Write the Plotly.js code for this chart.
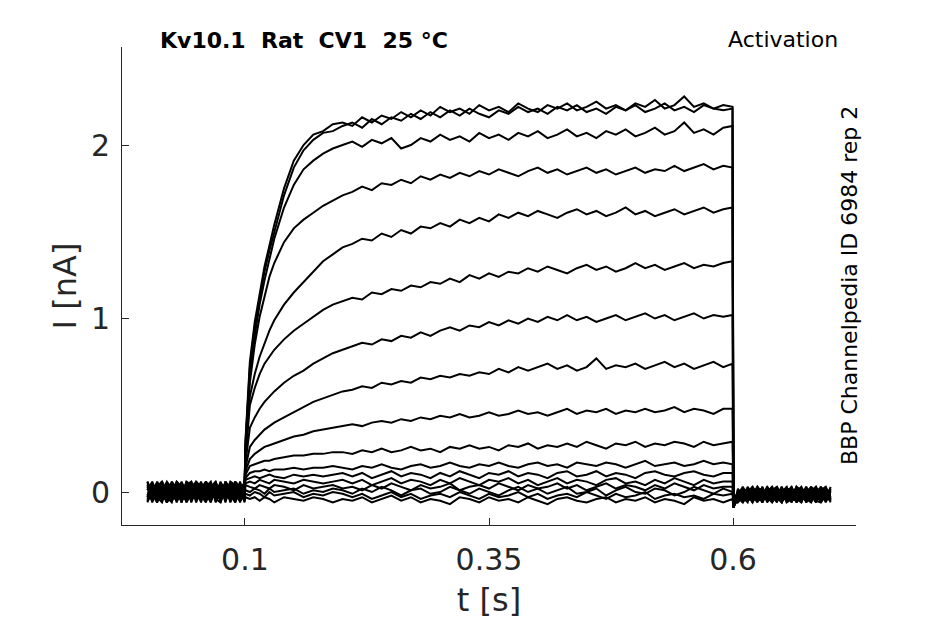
<!DOCTYPE html>
<html>
<head>
<meta charset="utf-8">
<script src="https://cdn.plot.ly/plotly-3.0.1.min.js"></script>
<style>
  html, body { margin: 0; padding: 0; background: #fff; }
  #graph { width: 945px; height: 624px; }
</style>
</head>
<body>
<div id="graph"></div>
<script>
// sample times [s]: holding, step, tail
var tPre = [0, 0.005, 0.01, 0.015, 0.02, 0.025, 0.03, 0.035, 0.04, 0.045, 0.05,
            0.055, 0.06, 0.065, 0.07, 0.075, 0.08, 0.085, 0.09, 0.095, 0.0995];
var tPulse = [0.1005, 0.105, 0.11, 0.115, 0.12, 0.125, 0.13, 0.14, 0.15, 0.16, 0.17, 0.18, 0.19, 0.2,
              0.21, 0.22, 0.23, 0.24, 0.25, 0.26, 0.27, 0.28, 0.29, 0.3, 0.31, 0.32, 0.33, 0.34, 0.35,
              0.36, 0.37, 0.38, 0.39, 0.4, 0.41, 0.42, 0.43, 0.44, 0.45, 0.46, 0.47, 0.48, 0.49, 0.5,
              0.51, 0.52, 0.53, 0.54, 0.55, 0.56, 0.57, 0.58, 0.59, 0.5995];
var tPost = [0.6005, 0.603, 0.605, 0.61, 0.615, 0.62, 0.625, 0.63, 0.635, 0.64, 0.645,
             0.65, 0.655, 0.66, 0.665, 0.67, 0.675, 0.68, 0.685, 0.69, 0.695, 0.7];

// current [nA] per sweep (pre | rise | plateau 0.21-0.59 + end | post)
var sweep01 = [0.03, -0.02, -0.05, 0.01, 0.06, 0.02, -0.03, 0.04, -0.06, -0.01, 0.05, 0.00, -0.04, 0.03, 0.06, -0.02, 0.01, -0.05, 0.04, 0.02, 0.00,
  0.30, 0.75, 0.98, 1.15, 1.30, 1.42, 1.54, 1.75, 1.91, 2.00, 2.06, 2.08, 2.12, 2.13,
  2.11, 2.16, 2.13, 2.17, 2.15, 2.19, 2.16, 2.20, 2.17, 2.22, 2.19, 2.21, 2.18, 2.23, 2.20, 2.22, 2.19, 2.24, 2.21, 2.19,
  2.23, 2.21, 2.24, 2.20, 2.22, 2.25, 2.21, 2.23, 2.20, 2.24, 2.22, 2.26, 2.21, 2.23, 2.28, 2.22, 2.24, 2.21, 2.23, 2.22,
  -0.09, -0.05, -0.02, 0.01, -0.04, 0.02, -0.01, -0.05, 0.00, 0.03, -0.03, -0.06, 0.01, -0.02, 0.02, -0.05, -0.01, 0.03, -0.04, 0.00, -0.06, 0.01];
var sweep02 = [-0.04, 0.02, 0.05, -0.01, -0.06, 0.03, 0.01, -0.03, 0.06, 0.04, -0.02, -0.05, 0.02, 0.00, -0.04, 0.05, 0.03, -0.01, -0.06, 0.01, 0.02,
  0.28, 0.72, 0.95, 1.12, 1.27, 1.39, 1.50, 1.71, 1.87, 1.97, 2.03, 2.07, 2.08, 2.11,
  2.13, 2.10, 2.15, 2.12, 2.16, 2.14, 2.18, 2.15, 2.19, 2.16, 2.20, 2.17, 2.21, 2.18, 2.16, 2.20, 2.18, 2.22, 2.19, 2.21,
  2.18, 2.22, 2.20, 2.23, 2.19, 2.21, 2.18, 2.22, 2.20, 2.23, 2.19, 2.21, 2.24, 2.20, 2.22, 2.19, 2.23, 2.21, 2.20, 2.21,
  -0.07, -0.04, -0.04, -0.02, 0.02, -0.05, 0.01, 0.02, -0.06, -0.01, 0.01, -0.03, 0.03, -0.05, -0.03, 0.01, -0.06, 0.00, 0.02, -0.04, 0.02, -0.03];
var sweep03 = [0.05, 0.01, -0.03, -0.06, 0.02, 0.04, -0.01, 0.06, 0.00, -0.04, -0.02, 0.03, 0.05, -0.05, 0.01, -0.03, 0.06, 0.02, -0.02, -0.05, -0.01,
  0.26, 0.68, 0.90, 1.08, 1.22, 1.35, 1.46, 1.64, 1.77, 1.86, 1.91, 1.95, 1.98, 2.00,
  2.02, 1.99, 2.03, 2.01, 2.04, 1.98, 2.00, 2.04, 2.02, 2.06, 2.03, 2.05, 2.02, 2.07, 2.04, 2.06, 2.03, 2.07, 2.05, 2.08,
  2.04, 2.06, 2.09, 2.05, 2.07, 2.04, 2.08, 2.06, 2.09, 2.05, 2.07, 2.10, 2.06, 2.08, 2.13, 2.07, 2.09, 2.06, 2.10, 2.11,
  -0.08, -0.06, -0.01, -0.05, 0.00, -0.02, -0.06, 0.03, -0.03, -0.05, 0.02, 0.00, -0.04, 0.02, -0.06, -0.02, 0.03, -0.05, 0.00, 0.02, -0.03, -0.05];
var sweep04 = [-0.01, -0.05, 0.03, 0.06, 0.00, -0.03, 0.05, -0.02, -0.05, 0.02, 0.06, -0.04, 0.01, 0.04, -0.06, 0.00, -0.02, 0.05, 0.03, -0.04, 0.03,
  0.24, 0.63, 0.85, 1.01, 1.13, 1.24, 1.32, 1.44, 1.52, 1.57, 1.61, 1.65, 1.68, 1.71,
  1.73, 1.76, 1.74, 1.78, 1.77, 1.80, 1.78, 1.82, 1.80, 1.83, 1.81, 1.84, 1.82, 1.85, 1.83, 1.86, 1.84, 1.82, 1.85, 1.87,
  1.84, 1.86, 1.83, 1.85, 1.87, 1.84, 1.86, 1.83, 1.85, 1.87, 1.84, 1.86, 1.85, 1.88, 1.85, 1.87, 1.89, 1.86, 1.88, 1.87,
  -0.06, -0.03, -0.05, 0.02, -0.03, 0.01, -0.04, -0.02, 0.02, -0.06, -0.02, 0.03, -0.05, -0.01, 0.01, -0.04, 0.02, -0.02, -0.06, 0.03, -0.01, 0.02];
var sweep05 = [0.06, 0.00, -0.04, 0.02, -0.02, 0.05, -0.06, 0.01, 0.03, -0.03, 0.00, 0.06, -0.05, -0.01, 0.04, 0.02, -0.04, 0.00, 0.06, -0.02, -0.03,
  0.22, 0.55, 0.68, 0.78, 0.86, 0.93, 0.99, 1.08, 1.15, 1.21, 1.27, 1.33, 1.37, 1.41,
  1.43, 1.46, 1.45, 1.49, 1.47, 1.51, 1.49, 1.53, 1.52, 1.55, 1.53, 1.57, 1.55, 1.58, 1.56, 1.60, 1.58, 1.61, 1.59, 1.62,
  1.60, 1.58, 1.61, 1.63, 1.60, 1.62, 1.59, 1.61, 1.64, 1.60, 1.62, 1.59, 1.61, 1.63, 1.60, 1.62, 1.64, 1.61, 1.63, 1.64,
  -0.09, -0.05, 0.00, -0.03, -0.06, 0.03, -0.02, 0.00, -0.05, 0.02, -0.04, -0.01, 0.02, -0.06, 0.00, 0.03, -0.03, -0.05, 0.01, -0.02, 0.03, -0.04];
var sweep06 = [-0.03, 0.04, 0.00, -0.05, 0.05, -0.01, 0.02, -0.06, 0.04, 0.06, -0.03, 0.01, -0.01, 0.05, -0.04, -0.06, 0.03, 0.04, -0.03, 0.01, 0.05,
  0.20, 0.50, 0.60, 0.68, 0.74, 0.78, 0.82, 0.88, 0.93, 0.97, 1.01, 1.05, 1.08, 1.10,
  1.12, 1.11, 1.15, 1.14, 1.17, 1.16, 1.19, 1.18, 1.21, 1.20, 1.23, 1.21, 1.25, 1.23, 1.26, 1.24, 1.27, 1.26, 1.29, 1.27,
  1.30, 1.28, 1.26, 1.29, 1.31, 1.28, 1.30, 1.27, 1.29, 1.32, 1.29, 1.31, 1.28, 1.30, 1.32, 1.29, 1.31, 1.30, 1.32, 1.33,
  -0.07, -0.02, -0.03, -0.06, 0.01, -0.04, 0.02, -0.06, -0.01, 0.00, -0.05, 0.02, -0.02, 0.03, -0.04, -0.06, 0.01, 0.02, -0.03, -0.05, 0.00, -0.02];
var sweep07 = [0.01, 0.06, -0.02, 0.03, -0.04, 0.00, 0.04, -0.03, -0.01, 0.05, -0.06, 0.02, 0.06, -0.02, 0.00, 0.03, -0.05, 0.01, -0.03, 0.06, -0.04,
  0.17, 0.37, 0.43, 0.48, 0.52, 0.55, 0.58, 0.63, 0.67, 0.70, 0.74, 0.77, 0.80, 0.82,
  0.84, 0.86, 0.85, 0.88, 0.87, 0.90, 0.89, 0.92, 0.90, 0.93, 0.95, 0.93, 0.96, 0.95, 0.98, 0.96, 0.99, 0.97, 1.00, 0.98,
  1.01, 0.99, 1.02, 0.99, 1.01, 0.98, 1.00, 1.02, 0.99, 1.01, 1.03, 1.00, 1.02, 0.99, 1.01, 1.03, 1.00, 1.02, 1.01, 1.02,
  -0.08, -0.04, 0.01, 0.00, -0.05, -0.01, 0.03, -0.03, -0.04, 0.01, 0.03, -0.05, -0.03, 0.00, 0.02, -0.03, -0.05, 0.01, 0.03, -0.06, -0.02, 0.01];
var sweep08 = [-0.06, 0.01, 0.04, -0.02, 0.03, -0.05, 0.06, 0.02, -0.04, 0.00, 0.03, -0.02, -0.06, 0.04, 0.02, -0.01, 0.05, -0.04, 0.01, -0.06, 0.04,
  0.14, 0.26, 0.30, 0.33, 0.36, 0.38, 0.40, 0.43, 0.46, 0.49, 0.52, 0.54, 0.56, 0.58,
  0.59, 0.61, 0.60, 0.63, 0.62, 0.64, 0.63, 0.66, 0.65, 0.67, 0.66, 0.68, 0.67, 0.69, 0.68, 0.71, 0.69, 0.72, 0.70, 0.72,
  0.74, 0.71, 0.73, 0.70, 0.72, 0.77, 0.71, 0.73, 0.72, 0.74, 0.71, 0.73, 0.75, 0.72, 0.74, 0.71, 0.73, 0.75, 0.72, 0.74,
  -0.06, -0.05, -0.02, 0.03, -0.02, -0.06, 0.00, 0.02, -0.02, -0.04, 0.00, 0.01, -0.06, 0.02, -0.01, 0.01, -0.04, -0.06, 0.02, 0.01, -0.05, -0.03];
var sweep09 = [0.02, -0.03, 0.06, 0.00, -0.05, 0.04, -0.02, -0.04, 0.05, -0.06, 0.01, 0.04, 0.00, -0.03, 0.06, -0.04, -0.02, 0.03, 0.05, 0.00, -0.05,
  0.12, 0.19, 0.22, 0.24, 0.26, 0.27, 0.28, 0.30, 0.32, 0.33, 0.35, 0.36, 0.37, 0.38,
  0.39, 0.38, 0.40, 0.41, 0.40, 0.42, 0.41, 0.43, 0.42, 0.44, 0.43, 0.45, 0.43, 0.44, 0.46, 0.44, 0.45, 0.47, 0.45, 0.46,
  0.44, 0.46, 0.48, 0.45, 0.47, 0.46, 0.48, 0.45, 0.47, 0.46, 0.48, 0.46, 0.47, 0.49, 0.46, 0.48, 0.47, 0.45, 0.48, 0.48,
  -0.09, -0.03, -0.05, -0.01, 0.02, 0.00, -0.05, -0.04, 0.03, -0.02, -0.06, 0.02, 0.00, -0.04, -0.05, 0.02, 0.00, -0.02, -0.05, 0.02, 0.01, -0.06];
var sweep10 = [-0.02, 0.05, -0.06, 0.04, 0.01, -0.02, -0.05, 0.03, 0.02, 0.06, -0.04, -0.01, 0.03, 0.06, -0.03, 0.01, 0.04, -0.06, 0.00, 0.03, 0.01,
  0.10, 0.15, 0.16, 0.17, 0.18, 0.18, 0.19, 0.20, 0.21, 0.21, 0.22, 0.22, 0.23, 0.23,
  0.22, 0.24, 0.23, 0.25, 0.23, 0.24, 0.26, 0.24, 0.25, 0.23, 0.26, 0.25, 0.27, 0.25, 0.26, 0.24, 0.27, 0.26, 0.28, 0.25,
  0.27, 0.26, 0.28, 0.26, 0.29, 0.27, 0.25, 0.28, 0.27, 0.29, 0.26, 0.28, 0.27, 0.29, 0.28, 0.26, 0.29, 0.27, 0.28, 0.29,
  -0.07, -0.06, 0.02, -0.04, -0.01, 0.02, -0.03, 0.01, -0.05, 0.02, -0.01, -0.04, 0.02, -0.03, 0.03, -0.01, -0.05, 0.03, -0.01, -0.03, -0.04, 0.02];
var sweep11 = [0.04, -0.06, 0.01, -0.03, 0.05, 0.03, 0.00, -0.05, 0.06, -0.02, 0.02, -0.06, 0.04, 0.01, -0.02, 0.06, -0.03, 0.02, -0.05, 0.04, -0.02,
  0.08, 0.11, 0.12, 0.12, 0.13, 0.12, 0.13, 0.13, 0.14, 0.13, 0.14, 0.14, 0.15, 0.14,
  0.13, 0.15, 0.14, 0.16, 0.14, 0.13, 0.15, 0.16, 0.14, 0.15, 0.17, 0.15, 0.14, 0.16, 0.15, 0.17, 0.15, 0.14, 0.16, 0.17,
  0.15, 0.16, 0.14, 0.17, 0.16, 0.15, 0.17, 0.16, 0.14, 0.16, 0.18, 0.15, 0.16, 0.17, 0.15, 0.16, 0.18, 0.16, 0.17, 0.16,
  -0.08, -0.04, -0.03, 0.02, -0.05, -0.03, 0.02, -0.06, 0.01, -0.03, 0.02, -0.02, -0.05, 0.01, -0.02, -0.06, 0.03, -0.03, 0.02, -0.01, 0.02, -0.05];
var sweep12 = [-0.05, 0.03, 0.02, 0.05, -0.03, -0.06, 0.03, 0.00, -0.02, 0.04, 0.05, -0.03, -0.01, -0.06, 0.03, 0.04, 0.00, -0.03, 0.02, -0.01, 0.06,
  0.07, 0.08, 0.09, 0.08, 0.09, 0.10, 0.09, 0.08, 0.10, 0.09, 0.10, 0.09, 0.10, 0.11,
  0.09, 0.11, 0.08, 0.10, 0.12, 0.09, 0.11, 0.10, 0.08, 0.11, 0.09, 0.12, 0.10, 0.08, 0.11, 0.10, 0.12, 0.09, 0.11, 0.10,
  0.08, 0.11, 0.12, 0.09, 0.10, 0.12, 0.09, 0.11, 0.10, 0.08, 0.11, 0.12, 0.10, 0.09, 0.11, 0.12, 0.10, 0.09, 0.11, 0.11,
  -0.06, -0.03, -0.06, -0.03, 0.03, -0.02, -0.04, 0.01, -0.01, 0.03, -0.05, 0.00, 0.03, -0.06, 0.01, 0.00, -0.02, 0.02, -0.06, 0.00, -0.04, 0.00];
var sweep13 = [0.00, -0.01, -0.06, 0.04, 0.03, 0.01, -0.04, 0.05, -0.03, 0.02, -0.05, 0.05, 0.02, -0.04, 0.00, -0.05, 0.06, 0.01, -0.06, 0.05, -0.03,
  0.05, 0.06, 0.05, 0.07, 0.06, 0.05, 0.07, 0.06, 0.05, 0.07, 0.06, 0.05, 0.06, 0.07,
  0.05, 0.07, 0.04, 0.06, 0.08, 0.05, 0.07, 0.06, 0.04, 0.07, 0.05, 0.08, 0.06, 0.04, 0.07, 0.06, 0.08, 0.05, 0.07, 0.04,
  0.06, 0.08, 0.05, 0.07, 0.06, 0.04, 0.07, 0.08, 0.05, 0.06, 0.04, 0.07, 0.05, 0.08, 0.06, 0.04, 0.07, 0.05, 0.06, 0.06,
  -0.09, -0.05, 0.01, -0.06, -0.02, 0.01, -0.01, -0.06, 0.02, 0.00, -0.03, -0.06, 0.00, 0.03, -0.05, -0.03, 0.02, -0.04, -0.02, 0.03, -0.02, -0.01];
var sweep14 = [0.06, -0.04, 0.03, -0.04, -0.01, 0.06, 0.02, -0.06, 0.01, -0.05, 0.04, 0.00, -0.03, 0.05, -0.05, 0.02, -0.01, 0.06, 0.04, -0.03, 0.00,
  0.04, 0.03, 0.02, 0.04, 0.03, 0.02, 0.04, 0.03, 0.01, 0.04, 0.02, 0.03, 0.04, 0.02,
  0.03, 0.01, 0.04, 0.02, 0.05, 0.03, 0.01, 0.04, 0.02, 0.03, 0.05, 0.01, 0.03, 0.04, 0.02, 0.05, 0.03, 0.01, 0.04, 0.02,
  0.03, 0.05, 0.02, 0.04, 0.01, 0.03, 0.05, 0.02, 0.04, 0.03, 0.01, 0.04, 0.02, 0.05, 0.03, 0.01, 0.04, 0.02, 0.03, 0.03,
  -0.07, -0.04, -0.04, 0.01, -0.01, -0.05, 0.03, 0.00, -0.03, -0.06, 0.03, -0.02, -0.03, -0.02, 0.02, -0.04, -0.01, 0.00, -0.03, -0.04, 0.01, -0.05];
var sweep15 = [-0.03, 0.02, 0.05, 0.01, -0.06, -0.02, 0.06, 0.03, -0.04, 0.03, -0.01, -0.04, 0.06, 0.02, 0.05, -0.06, 0.02, -0.02, -0.04, 0.02, 0.05,
  0.01, 0.00, 0.02, 0.01, -0.01, 0.02, 0.00, 0.01, 0.02, -0.01, 0.01, 0.00, 0.02, 0.01,
  -0.01, 0.02, 0.00, 0.03, 0.01, -0.02, 0.01, 0.02, -0.01, 0.00, 0.03, 0.01, -0.01, 0.02, 0.00, -0.02, 0.01, 0.03, 0.00, 0.02,
  -0.01, 0.01, 0.03, -0.01, 0.00, 0.02, -0.02, 0.01, 0.03, 0.00, -0.01, 0.02, 0.01, -0.02, 0.00, 0.03, 0.01, -0.01, 0.02, 0.00,
  -0.08, -0.06, -0.02, -0.02, 0.01, -0.06, 0.00, -0.02, 0.03, -0.01, -0.04, 0.03, -0.06, -0.04, 0.00, 0.02, -0.06, -0.01, 0.03, -0.02, -0.05, 0.03];
var sweep16 = [0.02, 0.05, -0.03, -0.02, 0.04, -0.05, 0.01, 0.04, 0.03, -0.03, 0.06, 0.03, -0.05, 0.00, -0.02, 0.04, -0.06, 0.05, 0.01, -0.05, -0.02,
  -0.01, -0.02, 0.00, -0.01, -0.03, 0.00, -0.02, -0.01, 0.00, -0.03, -0.01, -0.02, 0.00, -0.01,
  -0.03, -0.01, -0.04, -0.02, 0.00, -0.03, -0.01, -0.04, -0.02, -0.01, -0.03, 0.00, -0.02, -0.04, -0.01, -0.03, -0.02, 0.00, -0.03, -0.01,
  -0.04, -0.02, -0.01, -0.03, 0.00, -0.02, -0.04, -0.01, -0.03, -0.02, 0.00, -0.04, -0.02, -0.01, -0.03, -0.02, -0.04, -0.01, -0.02, -0.01,
  -0.06, -0.03, 0.00, 0.02, -0.04, 0.00, -0.05, 0.03, -0.05, -0.03, 0.01, -0.05, 0.02, 0.01, -0.06, -0.02, 0.00, -0.06, 0.00, 0.01, 0.03, -0.04];
var sweep17 = [-0.05, -0.01, 0.02, 0.06, -0.02, 0.03, -0.05, -0.01, 0.05, 0.01, -0.03, 0.05, 0.01, -0.05, 0.04, 0.00, 0.03, -0.04, 0.06, 0.03, -0.06,
  -0.03, -0.04, -0.03, -0.05, -0.03, -0.04, -0.06, -0.03, -0.04, -0.05, -0.03, -0.04, -0.06, -0.04,
  -0.05, -0.03, -0.06, -0.04, -0.02, -0.05, -0.03, -0.06, -0.04, -0.05, -0.07, -0.03, -0.04, -0.06, -0.03, -0.05, -0.04, -0.06, -0.03, -0.05,
  -0.07, -0.04, -0.03, -0.05, -0.06, -0.04, -0.03, -0.06, -0.04, -0.05, -0.03, -0.06, -0.04, -0.05, -0.07, -0.03, -0.05, -0.04, -0.06, -0.04,
  -0.09, -0.05, -0.04, -0.04, 0.00, 0.03, -0.03, -0.04, 0.01, 0.02, -0.02, 0.01, -0.04, -0.05, 0.03, 0.01, -0.03, 0.03, -0.05, -0.06, -0.01, 0.00];

var xTickVals = [0.1, 0.35, 0.6];
var xTickText = ['0.1', '0.35', '0.6'];
var yTickVals = [0, 1, 2];
var yTickText = ['0', '1', '2'];

var sweeps = [sweep01, sweep02, sweep03, sweep04, sweep05, sweep06, sweep07, sweep08, sweep09,
              sweep10, sweep11, sweep12, sweep13, sweep14, sweep15, sweep16, sweep17];
var tAll = tPre.concat(tPulse, tPost);

var data = sweeps.map((ys, k) => {
    if (ys.length != tAll.length) {
        throw new Error('sweep ' + (k + 1) + ' has ' + ys.length + ' points, expected ' + tAll.length);
    }
    return {
        x: tAll, y: ys,
        mode: 'lines',
        type: 'scatter',
        line: {color: '#000000', width: 2},
        hoverinfo: 'skip'
    };
});

var axisGrey = '#262626';
var fontFamily = 'DejaVu Sans, sans-serif';

function axisStyle(extra) {
    var base = {
        showline: true, linecolor: axisGrey, linewidth: 1,
        ticks: 'inside', ticklen: 7, tickwidth: 1, tickcolor: axisGrey,
        showgrid: false, zeroline: false, mirror: false,
        tickmode: 'array',
        tickfont: {family: fontFamily, size: 30, color: axisGrey}
    };
    return Object.assign(base, extra);
}

var layout = {
    width: 945, height: 624,
    margin: {l: 122, r: 89, t: 47, b: 99},
    paper_bgcolor: '#ffffff', plot_bgcolor: '#ffffff',
    showlegend: false,
    xaxis: axisStyle({
        range: [-0.026, 0.726],
        tickvals: xTickVals, ticktext: xTickText,
        ticklabelstandoff: 8,
        title: {text: 't [s]', font: {family: fontFamily, size: 32, color: axisGrey}, standoff: 12}
    }),
    yaxis: axisStyle({
        range: [-0.19, 2.565],
        tickvals: yTickVals, ticktext: yTickText,
        ticklabelstandoff: 5,
        title: {text: 'I [nA]', font: {family: fontFamily, size: 32, color: axisGrey}, standoff: 4}
    }),
    annotations: [
        {
            text: '<b>Kv10.1\u00a0\u00a0Rat\u00a0\u00a0CV1\u00a0\u00a025\u00a0°C</b>',
            xref: 'paper', yref: 'paper', x: 0.049, y: 1.0146,
            xanchor: 'left', yanchor: 'middle', showarrow: false,
            font: {family: fontFamily, size: 22, color: '#000000'}
        },
        {
            text: 'Activation',
            xref: 'paper', yref: 'paper', x: 0.9782, y: 1.0167,
            xanchor: 'right', yanchor: 'middle', showarrow: false,
            font: {family: fontFamily, size: 22, color: '#000000'}
        },
        {
            text: 'BBP Channelpedia ID 6984 rep 2',
            xref: 'paper', yref: 'paper', x: 0.9905, y: 0.5,
            xanchor: 'center', yanchor: 'middle', showarrow: false, textangle: -90,
            font: {family: fontFamily, size: 22, color: '#000000'}
        }
    ]
};

Plotly.newPlot('graph', data, layout, {staticPlot: true, displayModeBar: false});
</script>
</body>
</html>
